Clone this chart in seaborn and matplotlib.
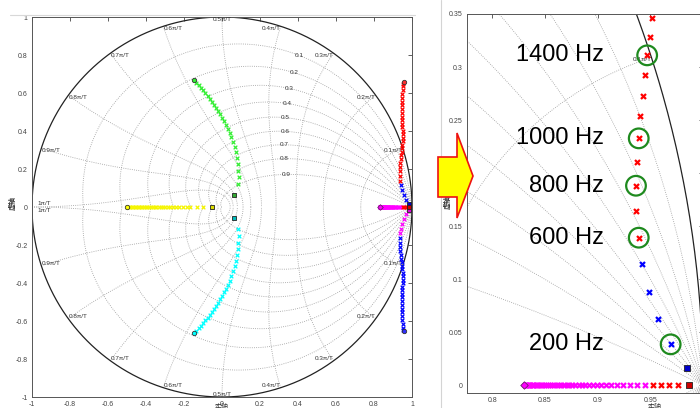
import numpy as np
import matplotlib
matplotlib.use('Agg')
import matplotlib.pyplot as plt
import seaborn as sns
from matplotlib.patches import Polygon
from matplotlib.lines import Line2D

sns.set_theme(style='white')
plt.rcParams['font.family'] = ['Liberation Sans', 'Noto Sans CJK SC', 'DejaVu Sans']

# ---------------- data ----------------
zeta_grid = [0.1, 0.2, 0.3, 0.4, 0.5, 0.6, 0.7, 0.8, 0.9]
wn_grid = [0.1, 0.2, 0.3, 0.4, 0.5, 0.6, 0.7, 0.8, 0.9, 1.0]
wn_labels = ['0.1π/T', '0.2π/T', '0.3π/T', '0.4π/T', '0.5π/T',
             '0.6π/T', '0.7π/T', '0.8π/T', '0.9π/T', '1π/T']
zeta_labels = ['0.1', '0.2', '0.3', '0.4', '0.5', '0.6', '0.7', '0.8', '0.9']
zeta_label_deg = [63, 61.8, 60.6, 57.8, 54.9, 50, 45, 38, 27]

# yellow branch (real axis)
yellow_x = [-0.5, -0.492, -0.484, -0.476, -0.468, -0.46, -0.452, -0.444, -0.436,
            -0.428, -0.42, -0.411, -0.402, -0.393, -0.384, -0.375, -0.365, -0.355,
            -0.345, -0.334, -0.323, -0.311, -0.299, -0.286, -0.272, -0.257, -0.241,
            -0.224, -0.205, -0.185, -0.168, -0.133, -0.098]
yellow_y = [0.0] * len(yellow_x)

# green branch (upper) and cyan branch (lower)
green_x = [-0.135, -0.123, -0.111, -0.099, -0.087, -0.075, -0.063, -0.052, -0.041,
           -0.030, -0.019, -0.009, 0.001, 0.011, 0.021, 0.031, 0.041, 0.050, 0.058,
           0.066, 0.073, 0.079, 0.083, 0.086, 0.087, 0.085]
green_y = [0.655, 0.642, 0.628, 0.614, 0.600, 0.585, 0.570, 0.555, 0.539, 0.523,
           0.506, 0.489, 0.471, 0.452, 0.433, 0.412, 0.390, 0.367, 0.342, 0.315,
           0.287, 0.257, 0.225, 0.192, 0.157, 0.120]
cyan_x = [-0.135, -0.123, -0.111, -0.099, -0.087, -0.075, -0.063, -0.052, -0.041,
          -0.030, -0.019, -0.009, 0.001, 0.011, 0.021, 0.031, 0.041, 0.050, 0.058,
          0.066, 0.073, 0.079, 0.083, 0.086, 0.087, 0.085]
cyan_y = [-0.652, -0.639, -0.625, -0.611, -0.597, -0.582, -0.567, -0.552, -0.536,
          -0.520, -0.503, -0.486, -0.468, -0.449, -0.430, -0.409, -0.387, -0.364,
          -0.339, -0.312, -0.284, -0.254, -0.222, -0.189, -0.154, -0.117]

# upper right branch: red part and blue part
red_up_x = [0.939, 0.9364, 0.9364, 0.9374, 0.939, 0.9405, 0.9428, 0.945, 0.947,
            0.950, 0.9517, 0.952, 0.952, 0.951, 0.950, 0.949, 0.948, 0.947, 0.946,
            0.946, 0.946, 0.947, 0.948, 0.949, 0.951, 0.953, 0.955]
red_up_y = [0.139, 0.164, 0.188, 0.2107, 0.2327, 0.2535, 0.273, 0.292, 0.311,
            0.3286, 0.346, 0.364, 0.382, 0.400, 0.419, 0.438, 0.457, 0.476, 0.495,
            0.515, 0.535, 0.555, 0.576, 0.597, 0.618, 0.639, 0.650]
blue_up_x = [0.9425, 0.9485, 0.957, 0.9693]
blue_up_y = [0.1138, 0.088, 0.0623, 0.0384]

# lower right branch: blue part and magenta part
blue_lo_x = [0.9364, 0.9364, 0.9374, 0.939, 0.9405, 0.9428, 0.945, 0.947,
             0.950, 0.9517, 0.952, 0.952, 0.951, 0.950, 0.949, 0.948, 0.947, 0.946,
             0.946, 0.946, 0.947, 0.948, 0.949, 0.951, 0.953, 0.955]
blue_lo_y = [-0.164, -0.188, -0.2107, -0.2327, -0.2535, -0.273, -0.292, -0.311,
             -0.3286, -0.346, -0.364, -0.382, -0.400, -0.419, -0.438, -0.457, -0.476,
             -0.495, -0.515, -0.535, -0.555, -0.576, -0.597, -0.618, -0.635, -0.645]
mag_lo_x = [0.939, 0.9425, 0.9485, 0.957, 0.9693]
mag_lo_y = [-0.139, -0.1138, -0.088, -0.0623, -0.0384]

# real axis: magenta and red
mag_re_x = [0.8308, 0.8318, 0.8328, 0.8339, 0.835, 0.8362, 0.8374, 0.8387, 0.840,
            0.8414, 0.8428, 0.8443, 0.8458, 0.8474, 0.849, 0.851, 0.8528, 0.8547,
            0.8567, 0.8589, 0.861, 0.8633, 0.8655, 0.868, 0.8706, 0.873, 0.876,
            0.8788, 0.882, 0.8851, 0.8883, 0.8918, 0.8956, 0.8994, 0.9035, 0.9082,
            0.913, 0.9184, 0.9241, 0.9304, 0.9377, 0.9453]
mag_re_y = [0.0] * len(mag_re_x)
red_re_x = [0.9526, 0.9602, 0.968, 0.9763]
red_re_y = [0.0, 0.0, 0.0, 0.0]

# start (circle / diamond) and end (square) points of each branch
start_x = [-0.5, -0.147, -0.147, 0.958, 0.958]
start_y = [0.0, 0.668, -0.665, 0.66, -0.653]
start_c = ['#ffff00', '#33ee33', '#00ffff', '#ff3030', '#3030ff']
diamond_x = [0.83]
diamond_y = [0.0]
end_x = [-0.053, 0.063, 0.063, 0.9845, 0.9845, 0.9867]
end_y = [0.0, 0.063, -0.058, 0.0163, -0.0163, 0.0]
end_c = ['#dddd00', '#33aa33', '#00bbbb', '#0000cc', '#dd00dd', '#cc0000']

# annotated frequencies (right panel)
ann_labels = ['1400 Hz', '1000 Hz', '800 Hz', '600 Hz', '200 Hz']
ann_x = [0.947, 0.939, 0.9364, 0.939, 0.9693]
ann_y = [0.311, 0.2327, 0.188, 0.139, 0.0384]

left_ticks = [-1, -0.8, -0.6, -0.4, -0.2, 0, 0.2, 0.4, 0.6, 0.8, 1]
left_ticklabels = ['-1', '-0.8', '-0.6', '-0.4', '-0.2', '0', '0.2', '0.4', '0.6', '0.8', '1']
right_xticks = [0.8, 0.85, 0.9, 0.95]
right_xticklabels = ['0.8', '0.85', '0.9', '0.95']
right_yticks = [0, 0.05, 0.1, 0.15, 0.2, 0.25, 0.3, 0.35]
right_yticklabels = ['0', '0.05', '0.1', '0.15', '0.2', '0.25', '0.3', '0.35']

# ---------------- figure ----------------
W, H = 700, 408
fig = plt.figure(figsize=(7, 4.08), dpi=100)
fig.patch.set_facecolor('white')


def px_rect(l, t, r, b):
    return [l / W, 1 - b / H, (r - l) / W, (b - t) / H]


axL = fig.add_axes(px_rect(32, 17, 412, 397))
axR = fig.add_axes(px_rect(467, 14, 703, 393))

gridc = '#9a9a9a'


def zgrid(ax, lw, xlim, ylim):
    def inside(x, y):
        return xlim[0] <= x <= xlim[1] and ylim[0] <= y <= ylim[1]

    th = np.linspace(0, np.pi, 800)
    for z in zeta_grid:
        r = np.exp(-z * th / np.sqrt(1 - z ** 2))
        for sgn in (1, -1):
            ax.plot(r * np.cos(th), sgn * r * np.sin(th), ls=(0, (1, 1.6)),
                    color=gridc, lw=lw, zorder=1)
    zz = np.linspace(0, 1, 400)
    for k in wn_grid:
        w = k * np.pi
        r = np.exp(-zz * w)
        a = w * np.sqrt(1 - zz ** 2)
        for sgn in (1, -1):
            ax.plot(r * np.cos(a), sgn * r * np.sin(a), ls=(0, (1, 1.6)),
                    color=gridc, lw=lw, zorder=1)
    t = np.linspace(0, 2 * np.pi, 1500)
    ax.plot(np.cos(t), np.sin(t), color='#222222', lw=0.9, zorder=2)
    fs = 4.6
    kw = dict(fontsize=fs, color='#333333', clip_on=True, zorder=3)
    for k, lab in zip(wn_grid, wn_labels):
        a = k * np.pi
        px, py = np.cos(a), np.sin(a)
        if k < 0.5:
            ha = 'right'
        elif k == 0.5:
            ha = 'center'
        else:
            ha = 'left'
        if k == 1.0:
            if inside(px, 0):
                ax.text(px + 0.03, 0.004, lab, ha='left', va='bottom', **kw)
                ax.text(px + 0.03, -0.004, lab, ha='left', va='top', **kw)
        else:
            if inside(px, py):
                ax.text(px, py, lab, ha=ha, va='top', **kw)
            if inside(px, -py):
                ax.text(px, -py, lab, ha=ha, va='bottom', **kw)
    for z, lab, deg in zip(zeta_grid, zeta_labels, zeta_label_deg):
        th0 = np.deg2rad(deg)
        r0 = np.exp(-z * th0 / np.sqrt(1 - z ** 2))
        lx, ly = r0 * np.cos(th0), r0 * np.sin(th0)
        if inside(lx, ly):
            ax.text(lx, ly, lab, ha='center', va='center', **kw)


def branches(ax, s, lw, s_end):
    sets = [(yellow_x, yellow_y, '#f5f500'), (green_x, green_y, '#33ee33'),
            (cyan_x, cyan_y, '#00ffff'), (red_up_x, red_up_y, '#ff0000'),
            (blue_up_x, blue_up_y, '#0000ff'), (blue_lo_x, blue_lo_y, '#0000ff'),
            (mag_lo_x, mag_lo_y, '#ff00ff'), (mag_re_x, mag_re_y, '#ff00ff'),
            (red_re_x, red_re_y, '#ff0000')]
    for xs, ys, c in sets:
        sns.scatterplot(x=xs, y=ys, ax=ax, marker='x', color=c, s=s, linewidth=lw,
                        zorder=4, legend=False)
    for x0, y0, c in zip(start_x, start_y, start_c):
        ax.scatter([x0], [y0], marker='o', s=s_end, facecolor=c, edgecolor='#333333',
                   linewidth=0.6, zorder=5)
    ax.scatter(diamond_x, diamond_y, marker='D', s=s_end * 0.8, facecolor='#ff00ff',
               edgecolor='#662266', linewidth=0.6, zorder=5)
    for x0, y0, c in zip(end_x, end_y, end_c):
        ax.scatter([x0], [y0], marker='s', s=s_end, facecolor=c, edgecolor='#222222',
                   linewidth=0.6, zorder=5)


def style_axes(ax):
    ax.tick_params(direction='in', top=True, right=True, labeltop=False,
                   labelright=False, length=3, width=0.6,
                   labelsize=5, colors='#444444', pad=3)
    for sp in ax.spines.values():
        sp.set_color('#555555')
        sp.set_linewidth(0.7)
        sp.set_visible(True)
    ax.set_facecolor('white')


# left panel
L_xlim, L_ylim = (-1, 1), (-1, 1)
zgrid(axL, 0.6, L_xlim, L_ylim)
branches(axL, 7, 0.9, 10)
axL.set_xlim(*L_xlim)
axL.set_ylim(*L_ylim)
axL.set_xticks(left_ticks)
axL.set_xticklabels(left_ticklabels)
axL.set_yticks(left_ticks)
axL.set_yticklabels(left_ticklabels)
style_axes(axL)

# right panel (zoom)
R_xlim, R_ylim = (0.776, 1.0), (-0.0075, 0.35)
zgrid(axR, 0.6, R_xlim, R_ylim)
branches(axR, 13, 1.6, 18)
axR.set_xlim(*R_xlim)
axR.set_ylim(*R_ylim)
axR.set_xticks(right_xticks)
axR.set_xticklabels(right_xticklabels)
axR.set_yticks(right_yticks)
axR.set_yticklabels(right_yticklabels)
style_axes(axR)

sns.scatterplot(x=ann_x, y=ann_y, ax=axR, marker='o', s=200, facecolor='none',
                edgecolor='#1e8a1e', linewidth=1.6, zorder=6, legend=False)
for lab, yv in zip(ann_labels, ann_y):
    axR.text(0.906, yv, lab, ha='right', va='center', fontsize=17,
             family=['Liberation Sans', 'DejaVu Sans'], color='black', zorder=7)

# axis labels
cjk = ['Noto Sans CJK SC', 'DejaVu Sans']
fig.text(12 / W, 1 - 203 / H, '虚轴', rotation=90, ha='center', va='center',
         fontsize=5, family=cjk, color='#333333', fontweight='bold')
fig.text(447 / W, 1 - 202 / H, '虚轴', rotation=90, ha='center', va='center',
         fontsize=5, family=cjk, color='#333333', fontweight='bold')
fig.text(222 / W, 1 - 403 / H, '实轴', ha='center', va='top',
         fontsize=5, family=cjk, color='#333333')
fig.text(655 / W, 1 - 403 / H, '实轴', ha='center', va='top',
         fontsize=5, family=cjk, color='#333333')

# screenshot borders
fig.add_artist(Line2D([10 / W, 415 / W], [1 - 15 / H, 1 - 15 / H], color='#d8d8d8', lw=0.8))
fig.add_artist(Line2D([441 / W, 441 / W], [0, 1], color='#d4d4d4', lw=0.8))

# arrow
pts = [(438, 157), (457, 157), (457, 133), (473, 176), (457, 218), (457, 197), (438, 197)]
arrow = Polygon([(x / W, 1 - y / H) for x, y in pts], closed=True,
                transform=fig.transFigure, facecolor='#ffff00', edgecolor='#ee1111',
                linewidth=1.2, zorder=10)
fig.add_artist(arrow)

fig.savefig('out.png', dpi=100)
